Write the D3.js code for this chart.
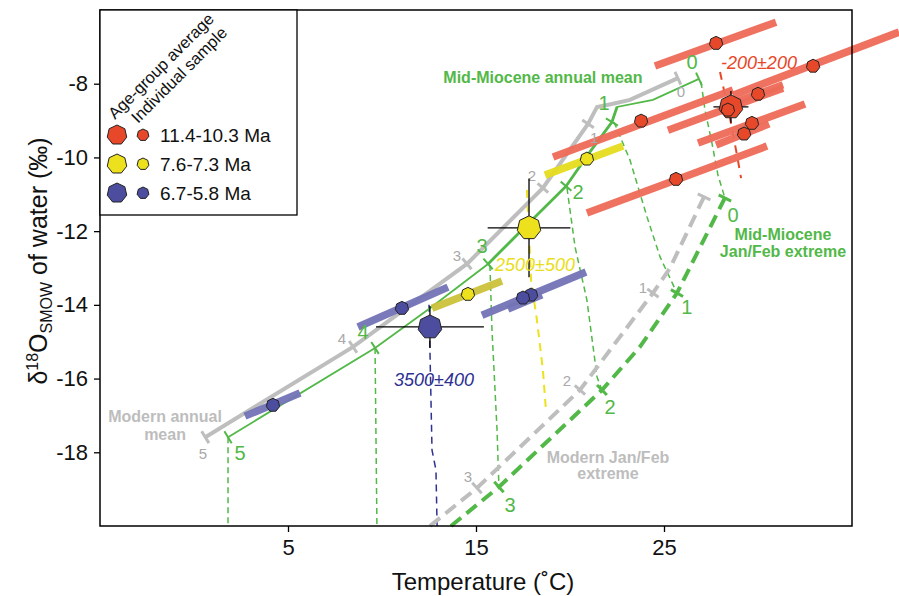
<!DOCTYPE html>
<html><head><meta charset="utf-8">
<script src="https://cdn.jsdelivr.net/npm/d3@7"></script>
<style>body{margin:0;background:#fff} svg{display:block} text{font-family:"Liberation Sans",Arial,Helvetica,sans-serif}</style>
</head><body><svg id="c" width="899" height="596"></svg>
<script>
// ---------- data ----------
const xTicks = [5, 15, 25];
const yTicks = [-8, -10, -12, -14, -16, -18];

const groups = ["11.4-10.3 Ma", "7.6-7.3 Ma", "6.7-5.8 Ma"];

// modern annual mean path [T, d18O]
const modernAnnual = [[0.6,-17.59],[8.46,-15.14],[14.52,-12.89],[18.56,-10.83],[20.96,-9.09],[21.44,-8.63],[22.23,-8.55],[23.19,-8.44],[25.74,-7.85]];
const modernAnnualTicks = [[0,"5",0.48,-18.02],[1,"4",7.87,-14.9],[2,"3",13.99,-12.67],[3,"2",17.98,-10.48],[4,"1",21.28,-9.47],[8,"0",25.9,-8.22]];

const miocAnnual = [[1.81,-17.59],[9.63,-15.17],[12.55,-14.09],[15.64,-12.89],[17.87,-11.75],[19.79,-10.78],[21.06,-9.85],[22.23,-9.04],[22.5,-8.63],[24.41,-8.44],[26.86,-7.87]];
const miocAnnualTicks = [[0,"5",2.45,-18.02],[1,"4",8.99,-14.74],[3,"3",15.32,-12.4],[5,"2",20.43,-10.94],[7,"1",21.81,-8.52],[10,"0",26.49,-7.41]];

const modernJF = [[12.55,-20],[15.05,-18.97],[20.53,-16.31],[24.41,-13.68],[25.32,-13.0],[27.13,-11.07]];
const modernJFTicks = [[1,"3",14.57,-18.67],[2,"2",19.84,-16.04],[3,"1",23.88,-13.52],[5,"",0,0]];

const miocJF = [[13.67,-20],[16.22,-18.94],[21.70,-16.31],[23.72,-15.14],[25.69,-13.68],[28.24,-11.10]];
const miocJFTicks = [[1,"3",16.81,-19.43],[2,"2",22.13,-16.77],[4,"1",26.22,-14.06],[5,"0",28.67,-11.56]];

// drop lines from annual mean to Jan/Feb extreme
const dropLines = [
  [[1.81,-17.59],[1.81,-20]],
  [[9.63,-15.17],[9.73,-20]],
  [[15.74,-12.92],[15.85,-14.68],[16.12,-17.40],[16.22,-18.94]],
  [[19.84,-10.83],[20.27,-12.43],[20.9,-13.87],[21.44,-15.96],[21.70,-16.31]],
  [[22.34,-9.04],[23.19,-10.07],[24.10,-11.62],[24.79,-12.70],[25.69,-13.68]],
  [[26.97,-7.95],[27.18,-8.71],[27.55,-9.61],[27.87,-10.48],[28.24,-11.10]]
];

// elevation drop lines for each age group
const redDrop = [[27.98,-7.68],[28.51,-8.93],[28.88,-9.93],[29.10,-10.56]];
const yellowDrop = [[17.71,-10.88],[17.93,-13.33],[18.24,-14.41],[18.56,-15.77],[18.72,-16.85]];
const blueDrop = [[12.5,-14.0],[12.66,-17.94],[12.87,-18.48],[12.93,-20]];

// individual samples [T, d18O]
const redSamples = [[27.77,-6.9],[32.93,-7.52],[23.78,-9.01],[30.0,-8.28],[28.40,-8.71],[29.68,-9.07],[29.26,-9.36],[25.64,-10.59]];
const yellowSamples = [[20.9,-10.04],[14.57,-13.71]];
const blueSamples = [[11.06,-14.09],[4.2,-16.72],[17.93,-13.73],[17.5,-13.81]];

// uncertainty bars [T1, d1, T2, d2]
const redBars = [[24.52,-7.52,30.96,-6.33],[28.67,-8.31,37.5,-6.6],[19.10,-9.99,28.67,-8.17],[25.21,-9.26,31.33,-8.12],[28.67,-8.52,31.33,-8.03],[26.81,-9.61,32.5,-8.55],[27.77,-9.66,30.59,-9.09],[20.90,-11.51,30.48,-9.69]];
const yellowBars = [[18.67,-10.48,22.82,-9.69]];
const oliveBars = [[12.66,-14.09,16.38,-13.35]];
const blueBars = [[8.72,-14.60,13.51,-13.52],[2.71,-17.02,5.64,-16.39],[15.32,-14.28,20.85,-13.11],[16.70,-14.11,18.51,-13.73]];

// age-group averages [T, d18O, Terr, dErr]
const redAvg = [28.56,-8.63,0.93,0.43];
const yellowAvg = [17.82,-11.91,2.2,1.34];
const blueAvg = [12.55,-14.6,2.87,0.57];

const elevLabels = [["-200±200",30.05,-7.44],["2500±500",18.14,-12.92],["3500±400",12.77,-16.04]];

// ---------- drawing ----------
const C = {red:"#E8482A", redBar:"#EE6A58", yellow:"#ECE11C", yellowBar:"#E6DC1E", olive:"#CBC23A",
  blue:"#4D4D9F", blueBar:"#7373B6", green:"#52B848", gray:"#BEBEBE", grayText:"#A9A9A9", darkBlue:"#2E3192", redText:"#E8482A", yellowText:"#E8DE1A"};

const svg = d3.select("#c");
const L=100,R=852,T=10,B=526;
const x = d3.scaleLinear().domain([-5,35]).range([L,R]);
const y = d3.scaleLinear().domain([-20,-6]).range([B,T]);
const line = d3.line().x(d=>x(d[0])).y(d=>y(d[1]));

// axes
const xa = svg.append("g").attr("transform",`translate(0,${B})`)
  .call(d3.axisBottom(x).tickValues(xTicks).tickSize(6).tickPadding(7).tickFormat(d=>String(d)));
const ya = svg.append("g").attr("transform",`translate(${L},0)`)
  .call(d3.axisLeft(y).tickValues(yTicks).tickSize(6).tickPadding(6).tickFormat(d=>String(d)));
[xa,ya].forEach(g=>{g.select(".domain").remove(); g.selectAll("line").attr("stroke","#000").attr("stroke-width",1.3);
  g.selectAll("text").attr("font-size",22).attr("fill","#111").style("font-family","'Liberation Sans',Arial,sans-serif");});

svg.append("text").attr("x",483).attr("y",590).attr("text-anchor","middle").attr("font-size",24).attr("fill","#111")
  .text("Temperature (˚C)");
const yl = svg.append("text").attr("transform","translate(47,261) rotate(-90)").attr("text-anchor","middle").attr("font-size",25).attr("fill","#111");
yl.append("tspan").text("δ");
yl.append("tspan").attr("font-size",16).attr("dy",-9).text("18");
yl.append("tspan").attr("dy",9).text("O");
yl.append("tspan").attr("font-size",16).attr("dy",5).text("SMOW");
yl.append("tspan").attr("dy",-5).text(" of water (‰)");

// helper: ticks perpendicular to a path
function drawTicks(pts, ticks, color, w, len){
  ticks.forEach(t=>{
    const i=t[0];
    const a=pts[Math.max(0,i-1)], b=pts[Math.min(pts.length-1,i+1)];
    const dx=x(b[0])-x(a[0]), dy=y(b[1])-y(a[1]); const n=Math.hypot(dx,dy);
    const nx=-dy/n, ny=dx/n; const px=x(pts[i][0]), py=y(pts[i][1]);
    svg.append("line").attr("x1",px-nx*len).attr("y1",py-ny*len).attr("x2",px+nx*len).attr("y2",py+ny*len)
      .attr("stroke",color).attr("stroke-width",w);
  });
}
function tickLabels(ticks,color,size){
  ticks.filter(t=>t[1]!=="").forEach(t=>{
    svg.append("text").attr("x",x(t[2])).attr("y",y(t[3])).attr("text-anchor","middle").attr("dominant-baseline","central")
      .attr("font-size",size).attr("fill",color).text(t[1]);
  });
}

// drop lines (thin dashed green)
dropLines.forEach(d=>svg.append("path").attr("d",line(d)).attr("fill","none").attr("stroke",C.green).attr("stroke-width",1.5).attr("stroke-dasharray","6,4"));
svg.append("path").attr("d",line(redDrop)).attr("fill","none").attr("stroke",C.red).attr("stroke-width",2).attr("stroke-dasharray","8,7");
svg.append("path").attr("d",line(yellowDrop)).attr("fill","none").attr("stroke",C.yellow).attr("stroke-width",2).attr("stroke-dasharray","8,6");
svg.append("path").attr("d",line(blueDrop)).attr("fill","none").attr("stroke",C.darkBlue).attr("stroke-width",1.5).attr("stroke-dasharray","7,5");

// Jan/Feb extreme lines
svg.append("path").attr("d",line(modernJF)).attr("fill","none").attr("stroke",C.gray).attr("stroke-width",4).attr("stroke-dasharray","13,7");
drawTicks(modernJF,modernJFTicks,C.gray,3,7);
svg.append("path").attr("d",line(miocJF)).attr("fill","none").attr("stroke",C.green).attr("stroke-width",4).attr("stroke-dasharray","13,7");
drawTicks(miocJF,miocJFTicks,C.green,3,7);

// annual lines
svg.append("path").attr("d",line(modernAnnual)).attr("fill","none").attr("stroke",C.gray).attr("stroke-width",4);
drawTicks(modernAnnual,modernAnnualTicks,C.gray,3,7);
svg.append("path").attr("d",line(miocAnnual)).attr("fill","none").attr("stroke",C.green).attr("stroke-width",1.8);
svg.append("path").attr("d",line(miocAnnual.slice(3,9))).attr("fill","none").attr("stroke",C.green).attr("stroke-width",2.8);
drawTicks(miocAnnual,miocAnnualTicks,C.green,2,7);

// bars
function bars(arr,color){arr.forEach(b=>svg.append("line").attr("x1",x(b[0])).attr("y1",y(b[1])).attr("x2",x(b[2])).attr("y2",y(b[3]))
  .attr("stroke",color).attr("stroke-width",7.5).attr("stroke-opacity",0.95));}
bars(redBars,C.redBar); bars(yellowBars,C.yellowBar); bars(oliveBars,C.olive); bars(blueBars,C.blueBar);

// tick labels on lines
tickLabels(modernAnnualTicks,C.grayText,15);
tickLabels(modernJFTicks,C.grayText,15);
tickLabels(miocAnnualTicks,C.green,20);
tickLabels(miocJFTicks,C.green,20);

// heptagon marker
function hept(r){const p=d3.range(7).map(k=>{const a=-Math.PI/2+k*2*Math.PI/7;return [r*Math.cos(a),r*Math.sin(a)];});return "M"+p.join("L")+"Z";}

// averages with error bars
[[redAvg,C.red],[yellowAvg,C.yellow],[blueAvg,C.blue]].forEach(([a,c])=>{
  svg.append("line").attr("x1",x(a[0]-a[2])).attr("x2",x(a[0]+a[2])).attr("y1",y(a[1])).attr("y2",y(a[1])).attr("stroke","#000").attr("stroke-width",1.3);
  svg.append("line").attr("x1",x(a[0])).attr("x2",x(a[0])).attr("y1",y(a[1]-a[3])).attr("y2",y(a[1]+a[3])).attr("stroke","#000").attr("stroke-width",1.3);
  svg.append("path").attr("d",hept(12)).attr("transform",`translate(${x(a[0])},${y(a[1])})`).attr("fill",c).attr("stroke","#222").attr("stroke-width",1);
});
// individual samples
[[redSamples,C.red],[yellowSamples,C.yellow],[blueSamples,C.blue]].forEach(([s,c])=>{
  s.forEach(p=>svg.append("path").attr("d",hept(6.8)).attr("transform",`translate(${x(p[0])},${y(p[1])})`).attr("fill",c).attr("stroke","#222").attr("stroke-width",1));
});

// elevation labels
[[elevLabels[0],C.redText],[elevLabels[1],C.yellowText],[elevLabels[2],C.darkBlue]].forEach(([e,c])=>{
  svg.append("text").attr("x",x(e[1])).attr("y",y(e[2])).attr("text-anchor","middle").attr("dominant-baseline","central")
    .attr("font-size",18).attr("font-style","italic").attr("fill",c).text(e[0]);
});

// line names
function multi(lines,T0,d0,dd,color){lines.forEach((s,i)=>svg.append("text").attr("x",x(T0)).attr("y",y(d0-i*dd)).attr("text-anchor","middle")
  .attr("dominant-baseline","central").attr("font-size",16).attr("font-weight","bold").attr("fill",color).text(s));}
multi(["Mid-Miocene annual mean"],18.56,-7.82,0,C.green);
multi(["Mid-Miocene","Jan/Feb extreme"],31.33,-12.1,0.44,C.green);
multi(["Modern annual","mean"],-1.54,-17.04,0.49,"#BDBDBD");
multi(["Modern Jan/Feb","extreme"],22.02,-18.13,0.44,"#BDBDBD");

// frame
svg.append("rect").attr("x",L).attr("y",T).attr("width",R-L).attr("height",B-T).attr("fill","none").attr("stroke","#000").attr("stroke-width",1.5);

// legend
const lg = svg.append("g");
lg.append("rect").attr("x",L).attr("y",T).attr("width",197).attr("height",205).attr("fill","#fff").attr("stroke","#000").attr("stroke-width",1.3);
lg.append("text").attr("transform","translate(115,120) rotate(-45)").attr("font-size",16.5).attr("fill","#111").text("Age-group average");
lg.append("text").attr("transform","translate(138,124) rotate(-45)").attr("font-size",16.5).attr("fill","#111").text("Individual sample");
[C.red,C.yellow,C.blue].forEach((c,i)=>{
  const cy=135+i*29;
  lg.append("path").attr("d",hept(10)).attr("transform",`translate(117,${cy})`).attr("fill",c).attr("stroke","#222").attr("stroke-width",1);
  lg.append("path").attr("d",hept(6)).attr("transform",`translate(143,${cy})`).attr("fill",c).attr("stroke","#222").attr("stroke-width",1);
  lg.append("text").attr("x",160).attr("y",cy).attr("dominant-baseline","central").attr("font-size",19).attr("fill","#111").text(groups[i]);
});
</script></body></html>
